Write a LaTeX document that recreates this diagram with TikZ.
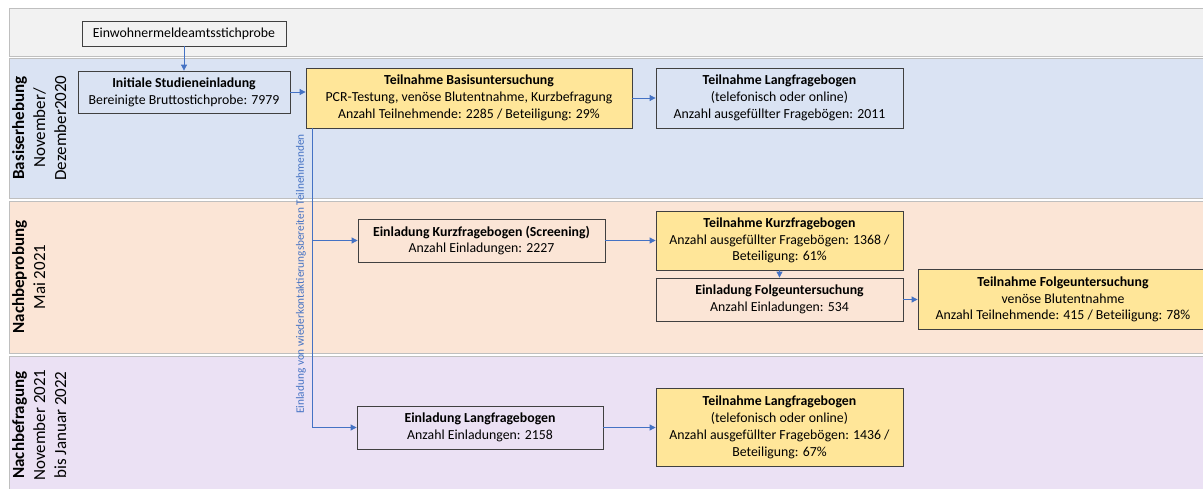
\documentclass[tikz,border=0pt]{standalone}
\usepackage{fontspec}
\setmainfont{Carlito}
\usetikzlibrary{arrows.meta}
\definecolor{bandgray}{HTML}{F2F2F2}
\definecolor{bandblue}{HTML}{DAE3F3}
\definecolor{bandpeach}{HTML}{FBE5D6}
\definecolor{bandpurple}{HTML}{EBE1F4}
\definecolor{bandline}{HTML}{BFBFBF}
\definecolor{boxyellow}{HTML}{FFE699}
\definecolor{boxline}{HTML}{404040}
\definecolor{arrowblue}{HTML}{4472C4}
\tikzset{
  band/.style={draw=bandline, line width=0.8pt},
  bandlabel/.style={rotate=90, anchor=north, align=center, inner sep=0pt,
     font=\fontsize{17}{21}\selectfont},
  stepbox/.style={draw=boxline, line width=0.8pt, rectangle, inner sep=0pt, align=center,
     font=\fontsize{13.8}{16.8}\selectfont},
  yellowbox/.style={stepbox, fill=boxyellow},
  flow/.style={draw=arrowblue, line width=0.8pt, -{Triangle[length=6pt,width=6pt]}},
  flowline/.style={draw=arrowblue, line width=0.8pt},
}
\begin{document}
\begin{tikzpicture}[x=1pt,y=-1pt]
\useasboundingbox (0,0) rectangle (1203,488);
\begin{scope}
\clip (0,0) rectangle (1203,488);
% bands
\path[band, fill=bandgray] (9,8) rectangle (1210,56);
\path[band, fill=bandblue] (9,58) rectangle (1210,198);
\path[band, fill=bandpeach] (9,201) rectangle (1210,353);
\path[band, fill=bandpurple] (9,356) rectangle (1210,495);
% band labels
\node[bandlabel] (lb1) at (12,128) {\textbf{Basiserhebung}\\November/\\Dezember2020};
\node[bandlabel] (lb2) at (12,277) {\textbf{Nachbeprobung}\\Mai 2021};
\node[bandlabel] (lb3) at (12,425) {\textbf{Nachbefragung}\\November 2021\\bis Januar 2022};
% boxes
\node[stepbox, minimum width=204pt, minimum height=25pt] (einw) at (184,33.5) {Einwohnermeldeamtsstichprobe};
\node[stepbox, minimum width=212pt, minimum height=42pt] (init) at (184,92) {\textbf{Initiale Studieneinladung}\\Bereinigte Bruttostichprobe: 7979};
\node[yellowbox, minimum width=326pt, minimum height=60pt] (basis) at (469,98) {\textbf{Teilnahme Basisuntersuchung}\\PCR-Testung, venöse Blutentnahme, Kurzbefragung\\Anzahl Teilnehmende: 2285 / Beteiligung: 29\%};
\node[stepbox, minimum width=247pt, minimum height=60pt] (lang1) at (779.5,98) {\textbf{Teilnahme Langfragebogen}\\(telefonisch oder online)\\Anzahl ausgefüllter Fragebögen: 2011};
\node[stepbox, minimum width=247pt, minimum height=43pt] (ekurz) at (481.5,240.5) {\textbf{Einladung Kurzfragebogen (Screening)}\\Anzahl Einladungen: 2227};
\node[yellowbox, minimum width=247pt, minimum height=59pt] (tkurz) at (779.5,240.5) {\textbf{Teilnahme Kurzfragebogen}\\Anzahl ausgefüllter Fragebögen: 1368 /\\Beteiligung: 61\%};
\node[stepbox, minimum width=247pt, minimum height=43pt] (efolge) at (779.5,299.5) {\textbf{Einladung Folgeuntersuchung}\\Anzahl Einladungen: 534};
\node[yellowbox, minimum width=290pt, minimum height=60pt] (tfolge) at (1063,299.5) {\textbf{Teilnahme Folgeuntersuchung}\\venöse Blutentnahme\\Anzahl Teilnehmende: 415 / Beteiligung: 78\%};
\node[stepbox, minimum width=246pt, minimum height=43pt] (elang) at (480,427.5) {\textbf{Einladung Langfragebogen}\\Anzahl Einladungen: 2158};
\node[yellowbox, minimum width=247pt, minimum height=78pt] (tlang) at (779.5,427.5) {\textbf{Teilnahme Langfragebogen}\\(telefonisch oder online)\\Anzahl ausgefüllter Fragebögen: 1436 /\\Beteiligung: 67\%};
% connectors
\draw[flow] (einw.south) -- (init.north);
\draw[flow] (init.east) -- (init.east -| basis.west);
\draw[flow] (basis.east) -- (lang1.west);
\coordinate (vtop) at ([xshift=7pt]basis.south west);
\coordinate (vmid) at (vtop |- ekurz.west);
\coordinate (vbot) at (vtop |- elang.west);
\draw[flowline] (vtop) -- (vbot);
\draw[flow] (vmid) -- (ekurz.west);
\draw[flow] (vbot) -- (elang.west);
\draw[flow] (ekurz.east) -- (tkurz.west);
\draw[flow] (tkurz.south) -- (efolge.north);
\draw[flow] (efolge.east) -- (tfolge.west);
\draw[flow] (elang.east) -- (tlang.west);
\node[rotate=90, text=arrowblue, font=\fontsize{11.3}{13}\selectfont, inner sep=0pt] (vlabel) at (301,274) {Einladung von wiederkontaktierungsbereiten Teilnehmenden};
\end{scope}
\end{tikzpicture}
\end{document}
